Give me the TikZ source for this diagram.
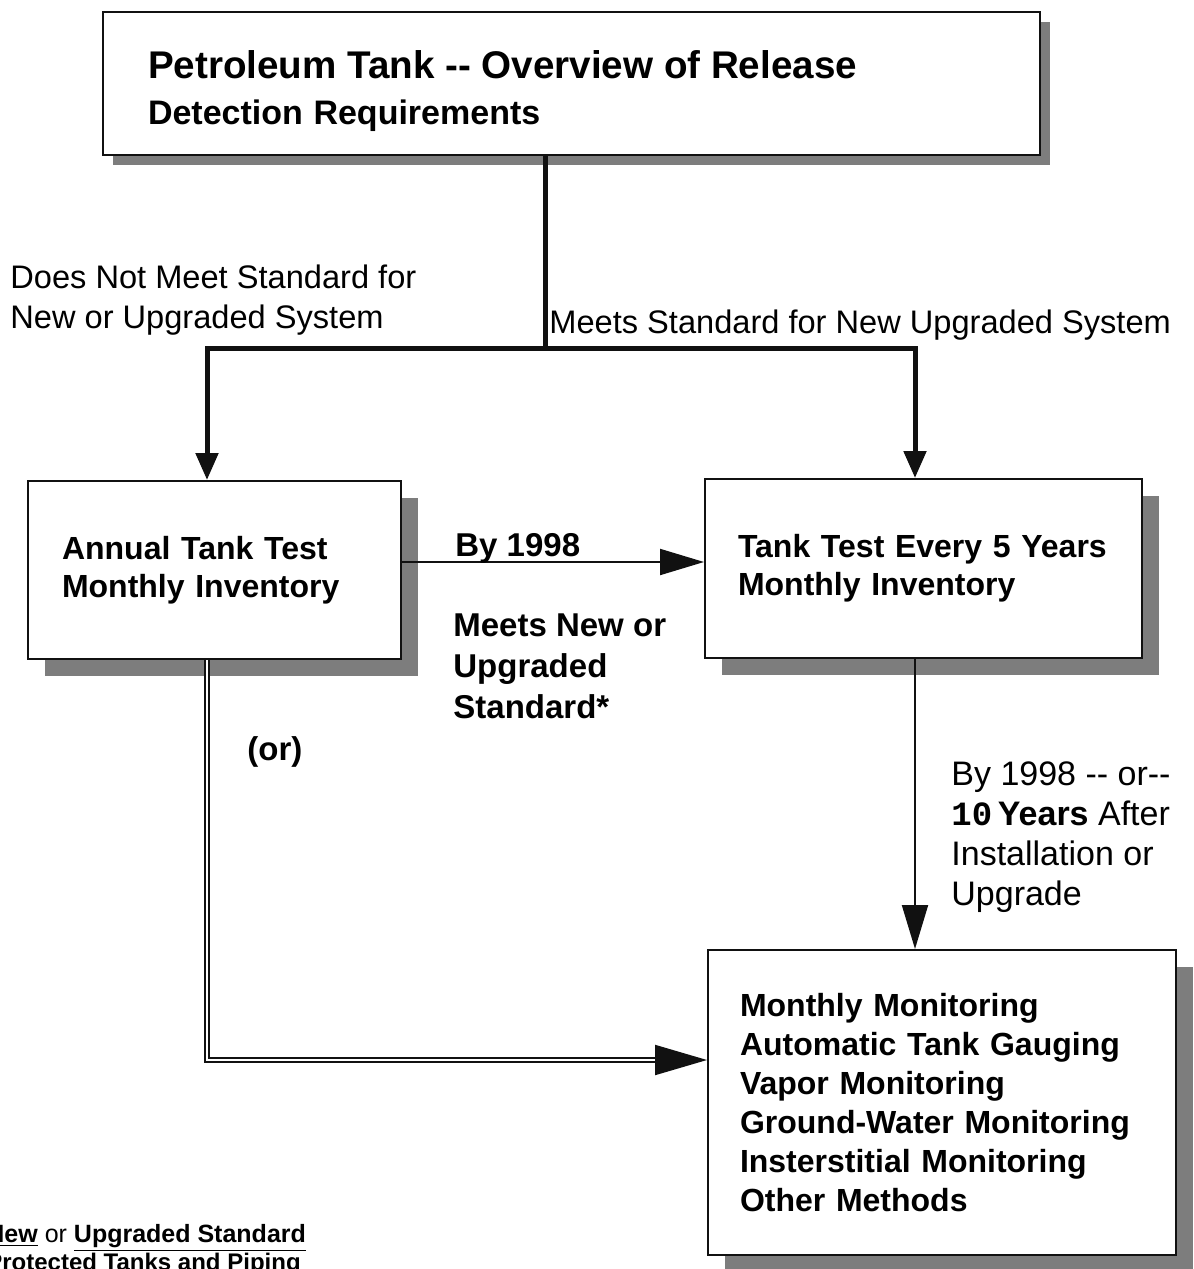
\documentclass[tikz,border=0pt]{standalone}
\usepackage{fontspec}
\setmainfont{Liberation Sans}
\newfontfamily\tkmono{Liberation Mono}
\usepackage{xcolor}
\usetikzlibrary{arrows.meta,shadows}
\definecolor{tkblack}{HTML}{111111}
\definecolor{tkshade}{HTML}{7d7d7d}

\tikzset{
	tkbox/.style={draw=tkblack, line width=1pt, fill=white, align=left, inner ysep=0pt, font=\bfseries\fontsize{16pt}{19pt}\selectfont},
	tkshadow/.style={drop shadow={shadow xshift=#1, shadow yshift=-#1, fill=tkshade, opacity=1}},
	trunk/.style={color=tkblack, line width=2.5pt},
	feed/.style={color=tkblack, line width=1pt},
	feedarrow/.style={feed, -{Triangle[length=22pt, width=13pt]}},
	tkdouble/.style={color=tkblack, line width=0.9pt, double=white, double distance=1.2pt},
	lbl/.style={inner sep=0pt, align=left, font=\fontsize{16.3pt}{20pt}\selectfont},
	blbl/.style={lbl, font=\bfseries\fontsize{16.5pt}{20.5pt}\selectfont},
	note/.style={inner sep=0pt, align=left, font=\fontsize{12.5pt}{12pt}\selectfont}
}

\begin{document}
\begin{tikzpicture}[x=0.5pt, y=-0.5pt]
		\useasboundingbox (0,0) rectangle (1194,1269);
		\clip (0,0) rectangle (1194,1269);
		% boxes
		\node[tkbox, tkshadow=5pt, minimum width=468.5pt, minimum height=71.5pt, text width=423.5pt, inner xsep=22.5pt] (title) at (571.5,83.5)
			{\fontsize{19.3pt}{22pt}\selectfont\rule{0pt}{22pt}Petroleum Tank {-}{-} Overview of Release\\[4pt]\fontsize{17pt}{20pt}\selectfont Detection Requirements};
		\node[tkbox, tkshadow=8.5pt, minimum width=186.5pt, minimum height=89pt, text width=152.5pt, inner xsep=17pt] (annual) at (214.5,570)
			{Annual Tank Test\\Monthly Inventory};
		\node[tkbox, tkshadow=8.5pt, minimum width=218.5pt, minimum height=89.5pt, text width=185.5pt, inner xsep=16.5pt] (tank5) at (923.5,568.5)
			{Tank Test Every 5 Years\\Monthly Inventory};
		\node[tkbox, tkshadow=8.5pt, minimum width=234pt, minimum height=152.5pt, text width=202pt, inner xsep=16pt, font=\bfseries\fontsize{16pt}{19.5pt}\selectfont] (monit) at (942,1102.5)
			{Monthly Monitoring\\Automatic Tank Gauging\\Vapor Monitoring\\Ground-Water Monitoring\\Insterstitial Monitoring\\Other Methods};
		% branch points
		\coordinate (jl) at (207,348);
		\coordinate (jm) at (545,348);
		\coordinate (jr) at (915,348);
		\coordinate (bymid) at (0,562);
		\coordinate (orturn) at (207,1060);
		\coordinate (orend) at (orturn -| monit.west);
		% connectors
		\draw[trunk] (jm |- title.south) -- (jm);
		\draw[trunk, {Triangle[length=13.5pt, width=11pt]}-{Triangle[length=13.5pt, width=11pt]}] (jl |- annual.north) |- (jr) -- (jr |- tank5.north);
		\draw[feedarrow] (annual.east |- bymid) -- (tank5.west |- bymid);
		\draw[feedarrow] (jr |- tank5.south) -- (jr |- monit.north);
		\draw[tkdouble, shorten >=20pt] (jl |- annual.south) -- (orturn) -- (orend);
		\draw[feed, -{Triangle[length=26pt, width=15pt]}] ([xshift=-24pt]orend) -- (orend);
		% labels
		\node[lbl, anchor=west] (nomeet) at (10,300) {Does Not Meet Standard for\\New or Upgraded System};
		\node[lbl, anchor=west] (meets) at (549,325) {Meets Standard for New Upgraded System};
		\node[blbl, anchor=west] (by98) at (455,548) {By 1998};
		\node[blbl, anchor=west] (meetsnew) at (453,666) {Meets New or\\Upgraded\\Standard*};
		\node[blbl, anchor=west] (ornote) at (247,752) {(or)};
		\node[lbl, anchor=west, font=\fontsize{17pt}{20pt}\selectfont] (tenyrs) at (951,837)
			{By 1998 {-}{-} or{-}{-}\\{\tkmono\bfseries 10}\,\textbf{Years} After\\Installation or\\Upgrade};
		\node[note, anchor=west] (footnote) at (-14,1250)
			{\underline{\textbf{New}} or \underline{\textbf{Upgraded Standard}}\\\textbf{\fontsize{12pt}{12pt}\selectfont Protected Tanks and Piping}};
	\end{tikzpicture}
\end{document}
